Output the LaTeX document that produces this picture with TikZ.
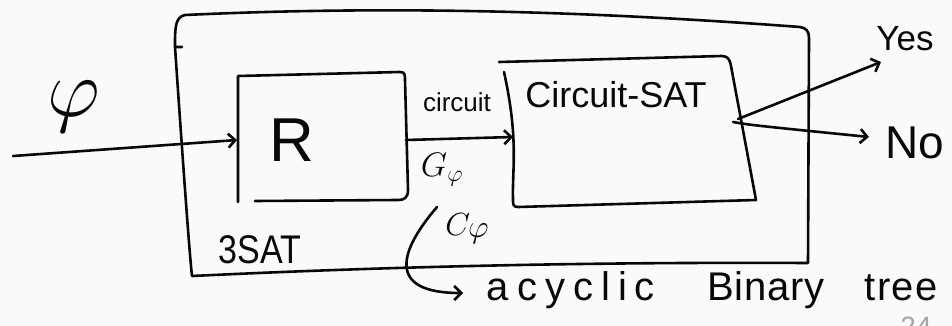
\documentclass[tikz,border=0pt]{standalone}
\usepackage{fix-cm}
\usepackage{fontspec}
\setmainfont{Liberation Sans}
\usetikzlibrary{arrows.meta}
\definecolor{bg}{RGB}{250,250,250}
\definecolor{ink}{RGB}{8,8,8}
\begin{document}
\begin{tikzpicture}[x=1pt,y=-1pt,
  pen/.style={line width=2.6pt, line cap=round, line join=round, draw=ink},
  arr/.style={pen, -{Straight Barb[length=7pt,width=14pt,line width=2.6pt]}},
  lbl/.style={inner sep=0pt, text=ink},
  fs/.style={font=\fontsize{#1}{#1}\selectfont}]
\fill[bg] (0,0) rectangle (952,326);
\useasboundingbox (0,0) rectangle (952,326);
% outer box
\draw[pen] (182,47) -- (175,47) .. controls (175,28) and (175,17) .. (185,15)
  .. controls (400,5) and (600,12) .. (800,27) .. controls (806,28) and (809,31) .. (809,38)
  -- (808,263) .. controls (600,262) and (400,266) .. (192,276)
  .. controls (189,250) and (180,120) .. (175,47);
% R box
\draw[pen] (238,202) -- (238,76) -- (400,72) .. controls (405,72) and (405,75) .. (405,80)
  -- (408,190) .. controls (408,198) and (404,200) .. (398,200) -- (255,201);
% Circuit-SAT box
\draw[pen] (499,62) -- (722,56) .. controls (728,56) and (730,60) .. (731,66)
  -- (756,200) -- (518,207) .. controls (513,207) and (513,204) .. (513,200)
  .. controls (512,170) and (519,140) .. (504,72);
% coordinates
\coordinate (start) at (13,156);
\coordinate (Rin) at (237,140);
\coordinate (Rout) at (406,140);
\coordinate (Cin) at (513,137);
\coordinate (Cout) at (738,119);
\coordinate (Cout2) at (733,122);
\coordinate (yesTip) at (881,62);
\coordinate (noTip) at (869,137);
\coordinate (cStart) at (437,207);
\coordinate (cTip) at (463,293);
% labels
\node[lbl,fs=82] (phi) at (74,107) {$\varphi$};
\node[lbl,fs=62] (R) at (292,140) {R};
\node[lbl,fs=26] (circ) at (457,102) {circuit};
\node[lbl,fs=34] (G) at (442,170) {$G_{\varphi}$};
\node[lbl,fs=32] (C) at (467,229) {$C\mkern-1mu\raisebox{-2pt}{$\varphi$}$};
\node[lbl,fs=40] (sat) at (260,250) {\scalebox{0.85}[1]{3SAT}};
\node[lbl,fs=36] (csat) at (616,95) {Circuit-SAT};
\node[lbl,fs=35] (yes) at (905,39) {Yes};
\node[lbl,fs=46] (no) at (915,143) {No};
\node[lbl,fs=40,anchor=base] (acyc) at (571,300) {\addfontfeature{LetterSpace=20}acyclic};
\node[lbl,fs=40,anchor=base] (bin) at (766,300) {\addfontfeature{LetterSpace=2}Binary};
\node[lbl,fs=40,anchor=base] (tree) at (901,300) {\addfontfeature{LetterSpace=3}tree};
% connectors
\draw[arr] (start) -- (Rin);
\draw[arr] (Rout) -- (Cin);
\draw[arr] (Cout) -- (yesTip);
\draw[arr] (Cout2) .. controls (750,125) .. (noTip);
\draw[arr] (cStart) .. controls (400,250) and (385,293) .. (cTip);
% page number, cut off at the lower edge as in the reference
\begin{scope}
\clip (0,0) rectangle (952,326);
\node[inner sep=0pt,text=black!35,fs=28,anchor=north] (page) at (916,317) {24};
\end{scope}
\end{tikzpicture}
\end{document}
